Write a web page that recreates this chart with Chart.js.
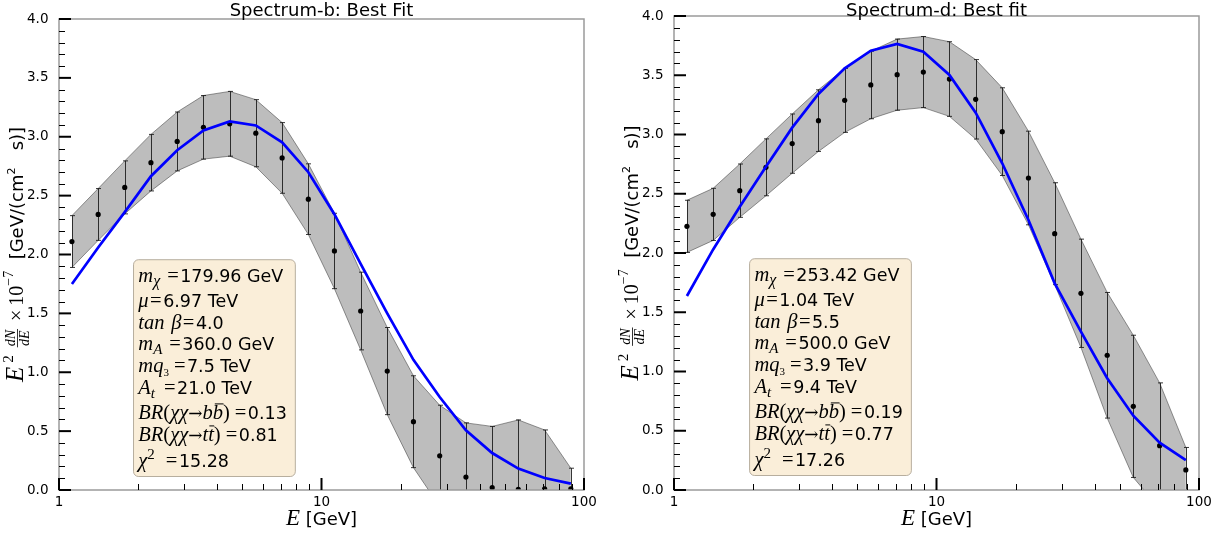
<!DOCTYPE html>
<html>
<head>
<meta charset="utf-8">
<script src="https://cdn.jsdelivr.net/npm/chart.js@4.4.1/dist/chart.umd.min.js"></script>
<style>
  html, body { margin: 0; padding: 0; background: #fff; width: 1222px; height: 536px; overflow: hidden; }
  #wrap { position: relative; width: 1222px; height: 536px; }
  canvas { position: absolute; top: 0; }
</style>
</head>
<body>
<div id="wrap">
  <canvas id="specB" width="611" height="536" style="left:0"></canvas>
  <canvas id="specD" width="611" height="536" style="left:611px"></canvas>
</div>
<script>
// Photon energy bins [GeV] (log-spaced bin centres)
const energies = [1.12, 1.41, 1.78, 2.24, 2.82, 3.55, 4.47, 5.62, 7.08, 8.91,
                  11.2, 14.1, 17.8, 22.4, 28.2, 35.5, 44.7, 56.2, 70.8, 89.1];

// Spectrum-b: measured E^2 dN/dE (x 1e-7 GeV cm^-2 s^-1), its uncertainty and the best-fit model
const fluxB = [2.11, 2.34, 2.57, 2.78, 2.96, 3.08, 3.11, 3.03, 2.82, 2.47,
               2.03, 1.52, 1.01, 0.58, 0.29, 0.11, 0.02, 0.005, 0.01, 0.01];
const errB  = [0.22, 0.22, 0.225, 0.24, 0.25, 0.27, 0.275, 0.285, 0.30, 0.30,
               0.32, 0.33, 0.37, 0.39, 0.43, 0.46, 0.52, 0.59, 0.50, 0.175];
const fitB  = [1.75, 2.06, 2.36, 2.665, 2.886, 3.053, 3.13, 3.096, 2.952, 2.699,
               2.342, 1.92, 1.50, 1.105, 0.79, 0.507, 0.314, 0.182, 0.102, 0.054];

// Spectrum-d
const fluxD = [2.225, 2.326, 2.526, 2.723, 2.923, 3.117, 3.288, 3.418, 3.505, 3.527,
               3.468, 3.297, 3.024, 2.633, 2.163, 1.66, 1.137, 0.706, 0.374, 0.169];
const errD  = [0.22, 0.22, 0.225, 0.24, 0.25, 0.26, 0.27, 0.285, 0.30, 0.30,
               0.315, 0.335, 0.37, 0.395, 0.43, 0.457, 0.53, 0.60, 0.53, 0.19];
const fitD  = [1.637, 2.03, 2.39, 2.728, 3.058, 3.342, 3.558, 3.707, 3.764, 3.699,
               3.502, 3.184, 2.757, 2.278, 1.744, 1.336, 0.943, 0.627, 0.40, 0.253];

// Best-fit parameter values shown in the info boxes
const paramsB = ['179.96 GeV', '6.97 TeV', '4.0', '360.0 GeV', '7.5 TeV', '21.0 TeV', '0.13', '0.81', '15.28'];
const paramsD = ['253.42 GeV', '1.04 TeV', '5.5', '500.0 GeV', '3.9 TeV', '9.4 TeV', '0.19', '0.77', '17.26'];

// Axis ticks
const xMajorTicks = [1, 10, 100];
const xMinorTicks = [2, 3, 4, 5, 6, 7, 8, 9, 20, 30, 40, 50, 60, 70, 80, 90];
const yMajorTicks = [0, 0.5, 1.0, 1.5, 2.0, 2.5, 3.0, 3.5, 4.0];
const yMinorTicks = [0.1, 0.2, 0.3, 0.4, 0.6, 0.7, 0.8, 0.9, 1.1, 1.2, 1.3, 1.4, 1.6, 1.7, 1.8, 1.9,
                     2.1, 2.2, 2.3, 2.4, 2.6, 2.7, 2.8, 2.9, 3.1, 3.2, 3.3, 3.4, 3.6, 3.7, 3.8, 3.9];

// ---- fonts for mixed math / plain text ----
const IT = s => `italic ${s}px "Liberation Serif"`;
const RM = s => `${s}px "Liberation Serif"`;
const SYM = s => `${s}px "DejaVu Serif"`;
const SANS = s => `${s}px "DejaVu Sans"`;

const M = 20.5, SUB = 15;
// "=" sign with a given amount of space in front of it
const EQ = pre => ({t: '=', f: RM(M), pre: pre});
// Parameter labels (math part of each line in the info box)
const paramLabels = [
  [{t: 'm', f: IT(M)}, {t: 'χ', f: IT(16), dy: 4}, EQ(7), ],
  [{t: 'μ', f: IT(M)}, EQ(1.5)],
  [{t: 'tan', f: IT(M), gap: 1.5}, {t: ' ', f: RM(M)}, {t: 'β', f: IT(M)}, EQ(1.5)],
  [{t: 'm', f: IT(M)}, {t: 'A', f: IT(SUB), dy: 4}, EQ(7)],
  [{t: 'mq', f: IT(M)}, {t: '3', f: RM(11), dy: 4}, EQ(5)],
  [{t: 'A', f: IT(M)}, {t: 't', f: IT(SUB), dy: 4}, EQ(9)],
  [{t: 'BR', f: IT(M)}, {t: '(', f: RM(M)}, {t: 'χχ', f: IT(M)}, {t: '→', f: SYM(17)},
   {t: 'b', f: IT(M)}, {t: 'b', f: IT(M), bar: 15.5}, {t: ')', f: RM(M)}, EQ(5)],
  [{t: 'BR', f: IT(M)}, {t: '(', f: RM(M)}, {t: 'χχ', f: IT(M)}, {t: '→', f: SYM(17)},
   {t: 't', f: IT(M)}, {t: 't', f: IT(M), bar: 15.5}, {t: ')', f: RM(M)}, EQ(5)],
  [{t: 'χ', f: IT(M)}, {t: '2', f: RM(SUB), dy: -8}, EQ(11)]
];
const lineBaselines = [22.4, 48, 69.7, 90.7, 112.4, 134.7, 159.7, 181.7, 207.4];

const yTitleSegs = [
  {t: 'E', f: IT(25), gap: 4}, {t: '2', f: RM(15), dy: -10}, {t: '  ', f: RM(16)},
  {frac: ['dN', 'dE'], f: IT(14), num: -8.5, den: 6, bar: -5.8},
  {t: '  ', f: RM(16)}, {t: '×', f: RM(20)}, {t: ' ', f: RM(16)}, {t: '10', f: RM(20)},
  {t: '−7', f: RM(14), dy: -10}, {t: '  [GeV/(cm', f: SANS(18)}, {t: '2', f: SANS(11), dy: -8},
  {t: '   s)]', f: SANS(18)}
];
const xTitleSegs = [{t: 'E', f: IT(23)}, {t: ' [GeV]', f: SANS(18)}];

// Draws (or measures) a run of styled text segments; returns its width
function runText(ctx, x, y, segs, measureOnly) {
  let cx = x;
  ctx.textAlign = 'left';
  ctx.textBaseline = 'alphabetic';
  for (const s of segs) {
    ctx.font = s.f;
    if (s.frac) {
      const w1 = ctx.measureText(s.frac[0]).width, w2 = ctx.measureText(s.frac[1]).width;
      const w = Math.max(w1, w2) + 2;
      if (!measureOnly) {
        ctx.fillText(s.frac[0], cx + (w - w1) / 2, y + s.num);
        ctx.fillText(s.frac[1], cx + (w - w2) / 2, y + s.den);
        ctx.fillRect(cx, y + s.bar, w, 0.8);
      }
      cx += w;
      continue;
    }
    cx += s.pre || 0;
    const w = ctx.measureText(s.t).width;
    if (!measureOnly) {
      ctx.fillText(s.t, cx, y + (s.dy || 0));
      if (s.bar) ctx.fillRect(cx + w * 0.2, y - s.bar, w * 0.85, 1);
    }
    cx += w + (s.gap || 0);
  }
  return cx - x;
}

// Plot decorations: error bars, frame, inward ticks, titles and the parameter box
const decorPlugin = {
  id: 'decor',
  afterDatasetDraw(chart, args, opts) {
    if (args.index !== 2) return;
    const ctx = chart.ctx, xs = chart.scales.x, ys = chart.scales.y, a = chart.chartArea;
    ctx.save();
    ctx.beginPath();
    ctx.rect(a.left, a.top, a.right - a.left, a.bottom - a.top);
    ctx.clip();
    ctx.strokeStyle = 'rgba(20,20,20,0.85)';
    ctx.lineWidth = 1;
    opts.flux.forEach((v, i) => {
      const px = Math.round(xs.getPixelForValue(energies[i])) + 0.5;
      const yt = ys.getPixelForValue(v + opts.err[i]);
      const yb = ys.getPixelForValue(v - opts.err[i]);
      ctx.beginPath();
      ctx.moveTo(px, yt); ctx.lineTo(px, yb);
      ctx.moveTo(px - 2.5, yt); ctx.lineTo(px + 2.5, yt);
      ctx.moveTo(px - 2.5, yb); ctx.lineTo(px + 2.5, yb);
      ctx.stroke();
    });
    ctx.restore();
  },
  afterDraw(chart, args, opts) {
    const ctx = chart.ctx, xs = chart.scales.x, ys = chart.scales.y, a = chart.chartArea;
    ctx.save();
    // frame
    ctx.strokeStyle = '#9a9a9a';
    ctx.lineWidth = 1.5;
    ctx.strokeRect(a.left, a.top, a.right - a.left, a.bottom - a.top);
    // ticks pointing into the plot
    ctx.strokeStyle = '#000';
    const tick = (x1, y1, x2, y2, w) => {
      ctx.lineWidth = w; ctx.beginPath(); ctx.moveTo(x1, y1); ctx.lineTo(x2, y2); ctx.stroke();
    };
    yMajorTicks.forEach(v => { const y = ys.getPixelForValue(v); tick(a.left, y, a.left + 12, y, 2); });
    yMinorTicks.forEach(v => { const y = Math.round(ys.getPixelForValue(v)) + 0.5; tick(a.left, y, a.left + 6, y, 1); });
    xMajorTicks.forEach(v => { const x = xs.getPixelForValue(v); tick(x, a.bottom, x, a.bottom - 12, 2); });
    xMinorTicks.forEach(v => { const x = Math.round(xs.getPixelForValue(v)) + 0.5; tick(x, a.bottom, x, a.bottom - 6, 1); });

    ctx.fillStyle = '#000';
    // title
    ctx.font = SANS(18);
    ctx.textAlign = 'center';
    ctx.textBaseline = 'alphabetic';
    ctx.fillText(opts.title, (a.left + a.right) / 2, 16);

    // x title
    const xw = runText(ctx, 0, 0, xTitleSegs, true);
    runText(ctx, (a.left + a.right) / 2 - xw / 2, 525, xTitleSegs);

    // y title (rotated)
    ctx.save();
    ctx.translate(a.left - 36, (a.top + a.bottom) / 2);
    ctx.rotate(-Math.PI / 2);
    const yw = runText(ctx, 0, 0, yTitleSegs, true);
    runText(ctx, -yw / 2, 0, yTitleSegs);
    ctx.restore();

    // parameter box
    const valSegs = opts.params.map((p, i) => paramLabels[i].concat([{t: p, f: SANS(17.5), pre: 1.5}]));
    const widths = valSegs.map(s => runText(ctx, 0, 0, s, true));
    const padL = 5.3, padR = 8;
    const bx = a.left + opts.boxFx * (a.right - a.left);
    const by = a.top + opts.boxFy * (a.bottom - a.top);
    const bw = Math.max(...widths) + padL + padR;
    const bh = 216.8;
    ctx.beginPath();
    ctx.roundRect(bx + 0.5, by + 0.5, bw, bh, 5);
    ctx.fillStyle = '#faeed9';
    ctx.fill();
    ctx.strokeStyle = 'rgba(160,150,132,0.75)';
    ctx.lineWidth = 1;
    ctx.stroke();
    ctx.fillStyle = '#000';
    valSegs.forEach((s, i) => runText(ctx, bx + padL, by + lineBaselines[i], s));
    ctx.restore();
  }
};

function pts(vals) { return energies.map((e, i) => ({x: e, y: vals[i]})); }

function makeChart(id, cfg) {
  const A = cfg.area;
  return new Chart(document.getElementById(id), {
    type: 'line',
    data: {
      datasets: [
        { label: 'fit', data: pts(cfg.fit), borderColor: '#0000ff', borderWidth: 2.7,
          pointRadius: 0, tension: 0, fill: false, order: 0 },
        { label: 'data', data: pts(cfg.flux), showLine: false, pointRadius: 2.6,
          pointBackgroundColor: '#000', pointBorderColor: '#000', pointBorderWidth: 0, order: 1 },
        { label: 'upper', data: pts(cfg.flux.map((v, i) => v + cfg.err[i])), borderColor: 'rgba(60,60,60,0.6)',
          borderWidth: 0.9, pointRadius: 0, tension: 0, fill: false, order: 2 },
        { label: 'lower', data: pts(cfg.flux.map((v, i) => v - cfg.err[i])), borderColor: 'rgba(60,60,60,0.6)',
          borderWidth: 0.9, pointRadius: 0, tension: 0, fill: '-1',
          backgroundColor: 'rgba(128,128,128,0.52)', order: 3 }
      ]
    },
    options: {
      responsive: false,
      devicePixelRatio: 1,
      animation: false,
      events: [],
      layout: { padding: { left: 0, right: 611 - A.right, top: A.top, bottom: 0 } },
      plugins: {
        legend: { display: false },
        tooltip: { enabled: false },
        decor: { title: cfg.title, flux: cfg.flux, err: cfg.err, params: cfg.params,
                 boxFx: cfg.boxFx, boxFy: cfg.boxFy }
      },
      scales: {
        x: {
          type: 'logarithmic', min: 1, max: 100,
          grid: { display: false }, border: { display: false },
          afterBuildTicks: s => { s.ticks = xMajorTicks.map(v => ({value: v})); },
          afterFit: s => { s.height = 536 - A.bottom; },
          ticks: { autoSkip: false, maxRotation: 0, padding: -4, color: '#000',
                   font: { family: 'DejaVu Sans', size: 13.5 }, callback: v => String(v) }
        },
        y: {
          min: 0, max: 4,
          grid: { display: false }, border: { display: false },
          afterFit: s => { s.width = A.left; },
          ticks: { stepSize: 0.5, padding: 2.5, color: '#000',
                   font: { family: 'DejaVu Sans', size: 13.5 }, callback: v => v.toFixed(1) }
        }
      }
    },
    plugins: [decorPlugin]
  });
}

makeChart('specB', {
  title: 'Spectrum-b: Best Fit', flux: fluxB, err: errB, fit: fitB, params: paramsB,
  area: { left: 59, right: 584, top: 19, bottom: 490 }, boxFx: 0.141, boxFy: 0.51
});
makeChart('specD', {
  title: 'Spectrum-d: Best fit', flux: fluxD, err: errD, fit: fitD, params: paramsD,
  area: { left: 63, right: 588, top: 16, bottom: 490 }, boxFx: 0.143, boxFy: 0.511
});
</script>
</body>
</html>
